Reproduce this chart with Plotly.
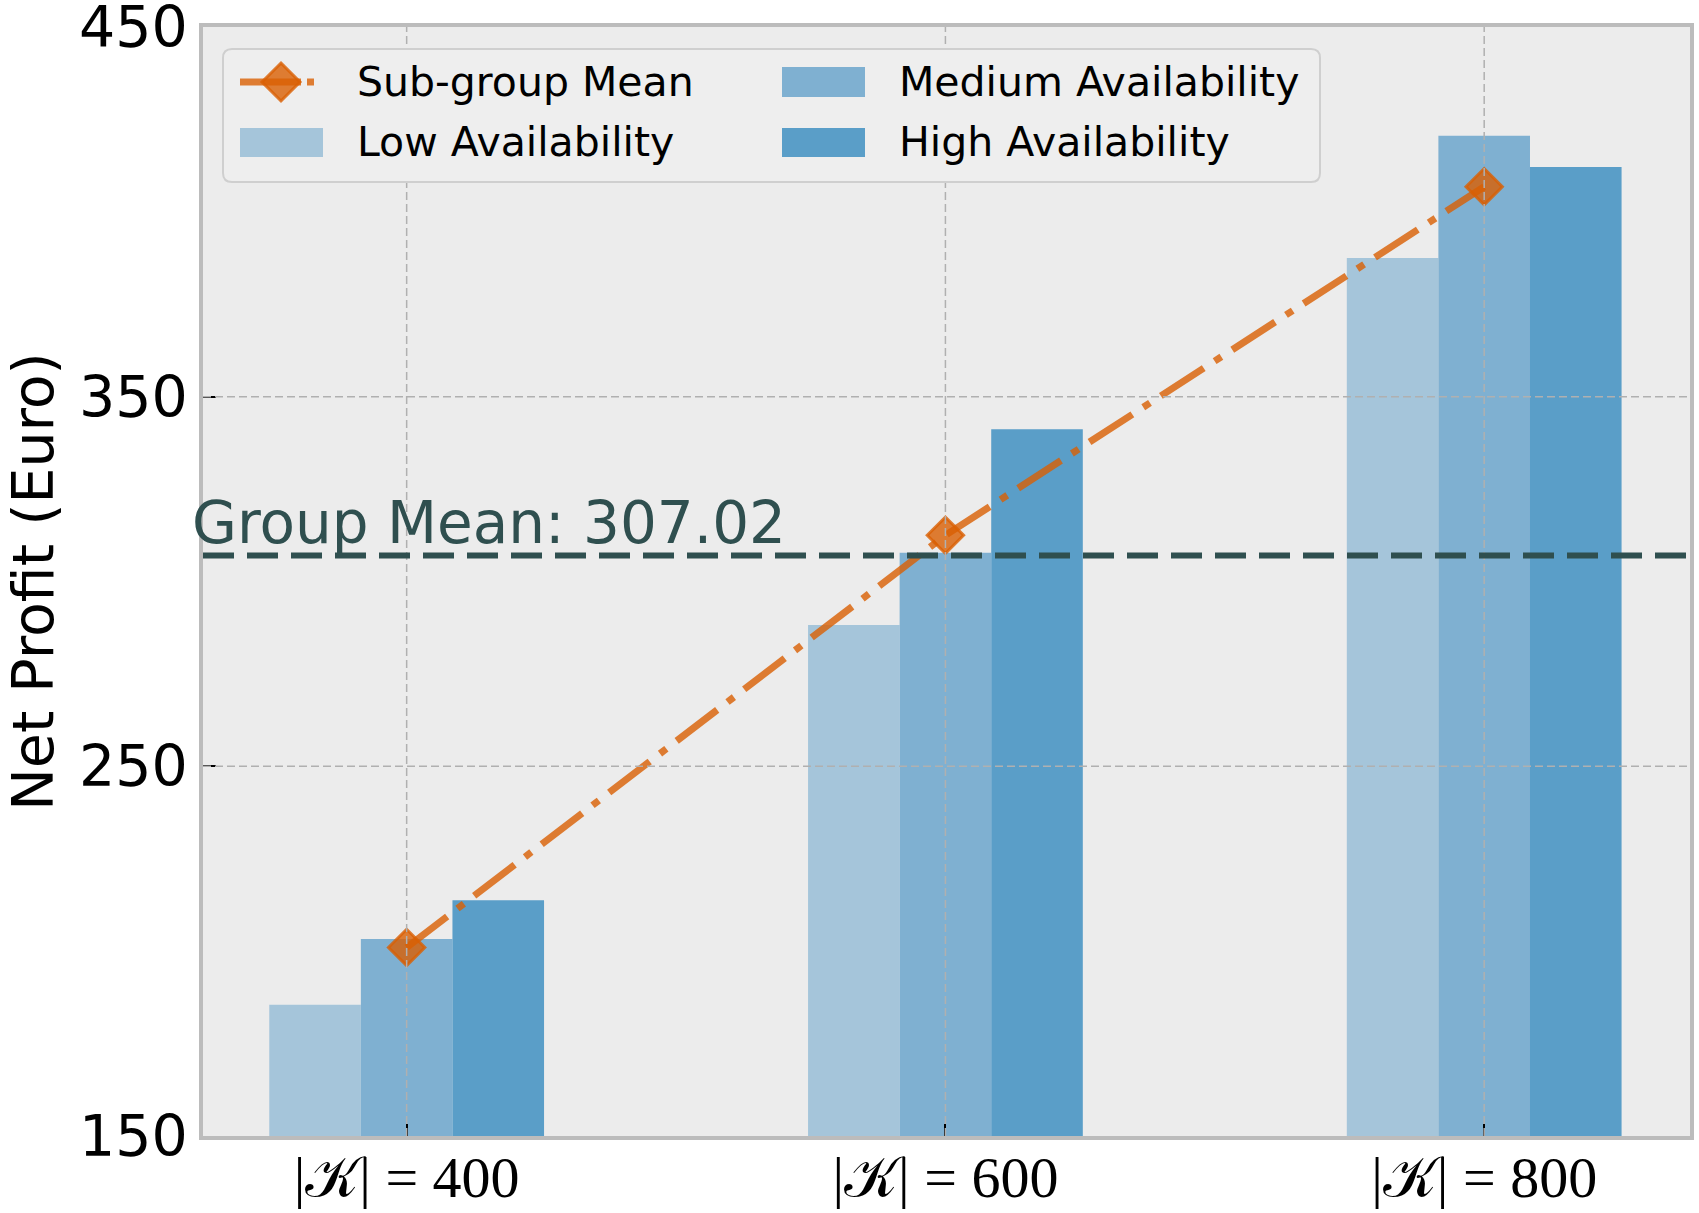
import plotly.graph_objects as go

# ---------------- data ----------------
categories = ["|𝒦| = 400", "|𝒦| = 600", "|𝒦| = 800"]
cat_pos = [0, 1, 2]
low_avail = [185.5, 288.2, 387.5]
medium_avail = [203.3, 307.8, 420.6]
high_avail = [213.8, 341.2, 412.1]
subgroup_mean = [201.0, 312.5, 406.8]
group_mean = 307.02
y_ticks = [150, 250, 350, 450]

# ---------------- style ----------------
C_LOW = "#a5c5da"
C_MED = "#7fb0d1"
C_HIGH = "#5a9ec8"
C_ORANGE = "rgba(217,95,2,0.8)"
C_SLATE = "#2f4f4f"
BG = "#ececec"
SPINE = "#bcbcbc"
GRID = "#b0b0b0"

W_FIG, H_FIG = 1699, 1213
L, R, T, B = 203, 1690, 27, 1136
PW, PH = R - L, B - T


def px(x):
    return (x - L) / PW


def py(y):
    return (B - y) / PH


fig = go.Figure()
for name, vals, col in [("Low Availability", low_avail, C_LOW),
                        ("Medium Availability", medium_avail, C_MED),
                        ("High Availability", high_avail, C_HIGH)]:
    fig.add_trace(go.Bar(x=cat_pos, y=vals, name=name, marker=dict(color=col, line=dict(width=0)),
                         showlegend=False))

fig.add_trace(go.Scatter(
    x=cat_pos, y=subgroup_mean, mode="lines+markers", name="Sub-group Mean",
    line=dict(color=C_ORANGE, width=7, dash="51px,13px,8px,13px"),
    marker=dict(symbol="diamond", size=28, color=C_ORANGE, line=dict(color=C_ORANGE, width=3)),
    showlegend=False, cliponaxis=False))

shapes = []
# gridlines on top of bars
for xv in cat_pos:
    shapes.append(dict(type="line", xref="x", yref="paper", x0=xv, x1=xv, y0=0, y1=1,
                       line=dict(color=GRID, width=1.5, dash="8px,4px"), layer="above"))
for yv in y_ticks[1:-1]:
    shapes.append(dict(type="line", xref="paper", yref="y", x0=0, x1=1, y0=yv, y1=yv,
                       line=dict(color=GRID, width=1.5, dash="8px,4px"), layer="above"))
# group mean line
shapes.append(dict(type="line", xref="paper", yref="y", x0=0, x1=1, y0=group_mean, y1=group_mean,
                   line=dict(color=C_SLATE, width=6, dash="31px,13px"), layer="above"))

# ---------------- manual legend ----------------
bx0, bx1, by0, by1, rr = 223, 1320, 49, 182, 9
path = (f"M{px(bx0+rr)},{py(by0)} L{px(bx1-rr)},{py(by0)} Q{px(bx1)},{py(by0)} {px(bx1)},{py(by0+rr)} "
        f"L{px(bx1)},{py(by1-rr)} Q{px(bx1)},{py(by1)} {px(bx1-rr)},{py(by1)} "
        f"L{px(bx0+rr)},{py(by1)} Q{px(bx0)},{py(by1)} {px(bx0)},{py(by1-rr)} "
        f"L{px(bx0)},{py(by0+rr)} Q{px(bx0)},{py(by0)} {px(bx0+rr)},{py(by0)} Z")
shapes.append(dict(type="path", xref="paper", yref="paper", path=path,
                   fillcolor="#eeeeee", line=dict(color="#cfcfcf", width=2), layer="above"))
# line sample
shapes.append(dict(type="line", xref="paper", yref="paper", x0=px(240), x1=px(301), y0=py(82), y1=py(82),
                   line=dict(color=C_ORANGE, width=7), layer="above"))
shapes.append(dict(type="line", xref="paper", yref="paper", x0=px(307), x1=px(314), y0=py(82), y1=py(82),
                   line=dict(color=C_ORANGE, width=7), layer="above"))
cx, cy, hd = 281, 82, 19
dpath = f"M{px(cx)},{py(cy-hd)} L{px(cx+hd)},{py(cy)} L{px(cx)},{py(cy+hd)} L{px(cx-hd)},{py(cy)} Z"
shapes.append(dict(type="path", xref="paper", yref="paper", path=dpath,
                   fillcolor=C_ORANGE, line=dict(color=C_ORANGE, width=3), layer="above"))
for (x0, x1, y0, y1, col) in [(240, 323, 128, 157, C_LOW), (782, 865, 67, 97, C_MED), (782, 865, 128, 157, C_HIGH)]:
    shapes.append(dict(type="rect", xref="paper", yref="paper", x0=px(x0), x1=px(x1), y0=py(y1), y1=py(y0),
                       fillcolor=col, line=dict(width=0), layer="above"))

annotations = []
for text, x, y in [("Sub-group Mean", 355, 82), ("Low Availability", 355, 142),
                   ("Medium Availability", 897, 82), ("High Availability", 897, 142)]:
    annotations.append(dict(text=text, xref="paper", yref="paper", x=px(x), y=py(y),
                            xanchor="left", yanchor="middle", showarrow=False,
                            font=dict(family="DejaVu Sans", size=41, color="black")))
annotations.append(dict(text=f"Group Mean: {group_mean:.2f}", xref="paper", yref="y",
                        x=px(190), y=group_mean, xanchor="left", yanchor="bottom", showarrow=False,
                        yshift=-3, font=dict(family="DejaVu Sans", size=58, color=C_SLATE)))

fig.update_layout(
    width=W_FIG, height=H_FIG,
    margin=dict(l=L, r=W_FIG - R, t=T, b=H_FIG - B, pad=0, autoexpand=False),
    paper_bgcolor="white", plot_bgcolor=BG,
    barmode="group", bargap=0.49, bargroupgap=0,
    shapes=shapes, annotations=annotations, showlegend=False,
)
fig.update_xaxes(
    range=[-0.378, 2.382], tickvals=cat_pos, ticktext=categories,
    tickfont=dict(family="Liberation Serif", size=58, color="black"),
    showgrid=False, zeroline=False, automargin=False,
    showline=True, linecolor=SPINE, linewidth=3.5, mirror=True,
    ticks="inside", ticklen=12, tickwidth=2, tickcolor="black",
    layer="above traces", ticklabelstandoff=-12, ticklabeloverflow="allow",
)
fig.update_yaxes(
    range=[150, 450], tickvals=y_ticks,
    tickfont=dict(family="DejaVu Sans", size=57, color="black"),
    showgrid=False, zeroline=False, automargin=False,
    showline=True, linecolor=SPINE, linewidth=3.5, mirror=True,
    ticks="inside", ticklen=13, tickwidth=2, tickcolor="black",
    layer="above traces", ticklabelstandoff=0, ticklabeloverflow="allow",
    title=dict(text="Net Profit (Euro)", font=dict(family="DejaVu Sans", size=57, color="black"), standoff=36),
)

fig.write_html("out.html", config={"displayModeBar": False},
               post_script="document.body.style.margin='0';")
